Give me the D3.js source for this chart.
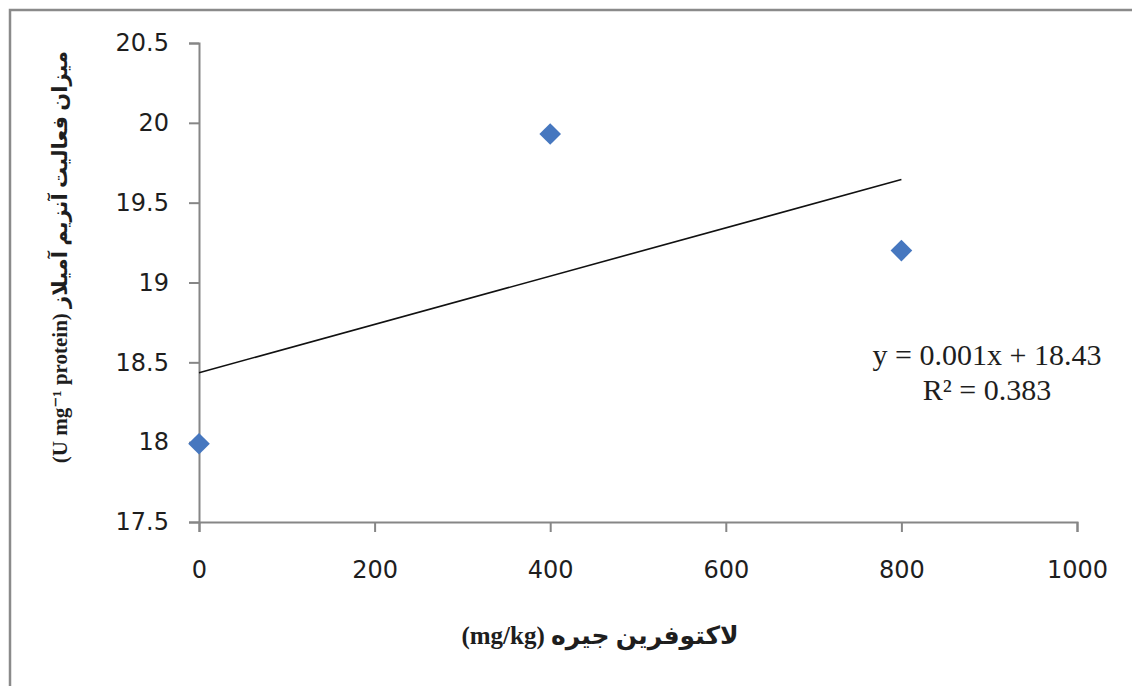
<!DOCTYPE html>
<html>
<head>
<meta charset="utf-8">
<script src="https://cdn.jsdelivr.net/npm/d3@7"></script>
<style>
  body { margin: 0; background: #fff; }
  svg { display: block; }
</style>
</head>
<body>
<div id="chart-area"></div>
<script>
// data
var doses = [0, 400, 800];
var activity = [17.99, 19.93, 19.2];
var xTicks = [0, 200, 400, 600, 800, 1000];
var yTicks = [17.5, 18, 18.5, 19, 19.5, 20, 20.5];
var equationLines = ["y = 0.001x + 18.43", "R\u00b2 = 0.383"];

var width = 1132;
var height = 686;

var svg = d3.select("#chart-area").append("svg")
    .attr("width", width)
    .attr("height", height);

// outer frame, cut off at right and bottom
svg.append("rect")
    .attr("x", 10)
    .attr("y", 10)
    .attr("width", 1140)
    .attr("height", 700)
    .attr("fill", "#fff")
    .attr("stroke", "#8a8a8a")
    .attr("stroke-width", 2.5);

var x = d3.scaleLinear()
    .domain([0, 1000])
    .range([199, 1077]);

var y = d3.scaleLinear()
    .domain([17.5, 20.5])
    .range([522, 43]);

var xAxisCall = d3.axisBottom(x)
    .tickValues(xTicks)
    .tickSize(10)
    .tickSizeOuter(10)
    .tickPadding(29)
    .tickFormat(d3.format("d"));

var yAxisCall = d3.axisLeft(y)
    .tickValues(yTicks)
    .tickSize(10)
    .tickSizeOuter(10)
    .tickPadding(20)
    .tickFormat((d) => String(d));

var xAxisGroup = svg.append("g")
    .attr("transform", "translate(0," + y(17.5) + ")")
    .call(xAxisCall);

var yAxisGroup = svg.append("g")
    .attr("transform", "translate(" + x(0) + ",0)")
    .call(yAxisCall);

[xAxisGroup, yAxisGroup].forEach((g) => {
    g.selectAll("path, line")
        .attr("stroke", "#868686")
        .attr("stroke-width", 2);
    g.selectAll("text")
        .attr("fill", "#1e1e1e")
        .attr("font-family", "DejaVu Sans, Verdana, sans-serif")
        .attr("font-size", "24px");
});

// least squares trendline over the points
var mx = d3.mean(doses);
var my = d3.mean(activity);
var slope = d3.sum(doses, (d, i) => (d - mx) * (activity[i] - my)) /
    d3.sum(doses, (d) => (d - mx) * (d - mx));
var intercept = my - slope * mx;
var trendX = [d3.min(doses), d3.max(doses)];

svg.append("line")
    .attr("x1", x(trendX[0]))
    .attr("y1", y(intercept + slope * trendX[0]))
    .attr("x2", x(trendX[1]))
    .attr("y2", y(intercept + slope * trendX[1]))
    .attr("stroke", "#111")
    .attr("stroke-width", 1.6);

var diamond = d3.symbol().type(d3.symbolSquare).size(235);

svg.selectAll(".pt")
    .data(doses)
    .enter().append("path")
    .attr("class", "pt")
    .attr("d", diamond)
    .attr("transform", (d, i) => "translate(" + x(d) + "," + y(activity[i]) + ") rotate(45)")
    .attr("fill", "#4677bf");

// equation label
svg.append("g").selectAll("text")
    .data(equationLines)
    .enter().append("text")
    .attr("x", 987)
    .attr("y", (d, i) => 365 + i * 35)
    .attr("text-anchor", "middle")
    .attr("font-family", "Liberation Serif, Times New Roman, serif")
    .attr("font-size", "30px")
    .attr("fill", "#1e1e1e")
    .text((d) => d);

// axis titles
svg.append("text")
    .attr("x", 600)
    .attr("y", 644)
    .attr("text-anchor", "middle")
    .attr("direction", "rtl")
    .attr("font-family", "Liberation Serif, DejaVu Sans, serif")
    .attr("font-weight", "bold")
    .attr("font-size", "25px")
    .attr("fill", "#1e1e1e")
    .text("لاکتوفرین جیره (mg/kg)");

svg.append("text")
    .attr("transform", "translate(67,257) rotate(-90)")
    .attr("text-anchor", "middle")
    .attr("direction", "rtl")
    .attr("font-family", "Liberation Serif, DejaVu Sans, serif")
    .attr("font-weight", "bold")
    .attr("font-size", "21px")
    .attr("fill", "#1e1e1e")
    .text("میزان فعالیت آنزیم آمیلاز (U mg\u207b\u00b9 protein)");
</script>
</body>
</html>
